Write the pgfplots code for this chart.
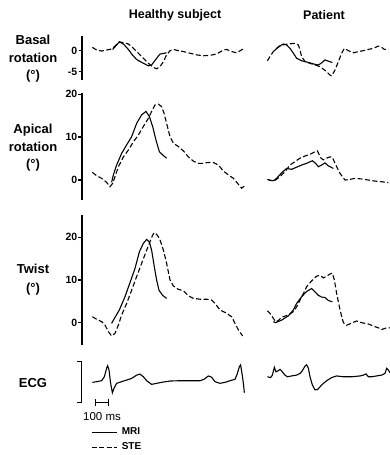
\documentclass[border=0pt]{standalone}
\usepackage{fontspec}
\setmainfont{Liberation Sans}
\usepackage{pgfplots}
\pgfplotsset{compat=1.18}

\pgfplotsset{
  basep/.style={scale only axis, clip=false, anchor=south west, xtick=\empty},
  hpanel/.style={basep, axis x line=none, axis y line*=left,
    y axis line style={line width=1.8pt},
    tick align=outside, major tick length=3.5pt,
    ytick style={line width=1.4pt, black},
    yticklabel style={font=\bfseries\fontsize{10.5}{12}\selectfont, inner sep=1pt},
    xmin=-80, xmax=1224, width=163pt},
  ppanel/.style={basep, hide axis, xmin=0, xmax=984, width=123pt},
  mri/.style={black, line width=1.1pt, solid, mark=none},
  ste/.style={black, line width=1.1pt, dash pattern=on 5pt off 2.5pt, mark=none},
}

\begin{document}
\begin{tikzpicture}
\path[use as bounding box] (0pt,0pt) rectangle (390pt,455pt);

% Titles
\node[font=\bfseries\fontsize{12.5}{14}\selectfont] at (175pt,440pt) {Healthy subject};
\node[font=\bfseries\fontsize{12.5}{14}\selectfont] at (324pt,440pt) {Patient};

% Row labels
\node[font=\bfseries\fontsize{13}{17.5}\selectfont, align=center] at (33pt,396pt) {Basal\\rotation\\(°)};
\node[font=\bfseries\fontsize{13}{17.5}\selectfont, align=center] at (33pt,307pt) {Apical\\rotation\\(°)};
\node[font=\bfseries\fontsize{13}{18.5}\selectfont, align=center] at (33pt,175.5pt) {Twist\\(°)};
\node[font=\bfseries\fontsize{13}{15}\selectfont] at (33pt,72pt) {ECG};

% ---------- Basal rotation ----------
\begin{axis}[hpanel, at={(82pt,374.9pt)}, height=44.1pt, ymin=-7, ymax=3.5,
  ytick={-5,0}, yticklabels={-5,0}]
\addplot[ste] coordinates {(3,0.8)(37,0.16)(77,-0.08)(117,0.16)(157,0.4)(184,1.1)(219,2.1)(251,1.9)(291,1.6)(331,0.6)(371,-0.6)(411,-1.8)(451,-3.0)(491,-4.0)(517,-4.3)(544,-3.8)(571,-2.6)(597,-1.0)(624,0)(651,0.3)(691,0)(731,-0.2)(784,-0.6)(837,-1.0)(891,-1.2)(944,-1.1)(997,-0.8)(1051,0.16)(1077,0.3)(1117,-0.2)(1157,-0.5)(1197,0.2)(1211,0.4)};
\addplot[mri] coordinates {(165,0.3)(219,2.1)(251,1.6)(291,0.3)(317,-0.8)(357,-2.1)(411,-3.0)(451,-3.6)(477,-3.4)(517,-1.8)(544,-0.8)(597,-0.5)};
\end{axis}
\begin{axis}[ppanel, at={(267pt,374.9pt)}, height=44.1pt, ymin=-7, ymax=3.5]
\addplot[ste] coordinates {(3,-2.4)(24,-1.4)(51,-0.2)(77,0.55)(117,1.35)(171,1.6)(224,1.75)(251,1.35)(264,0.16)(277,-1.4)(304,-2.6)(344,-3.0)(384,-3.4)(424,-3.8)(451,-4.4)(477,-5.0)(504,-5.8)(517,-6.0)(544,-4.6)(571,-2.6)(597,-0.6)(619,0.55)(651,0)(691,-0.5)(731,-0.2)(771,0)(811,0.3)(851,0.55)(891,1.1)(917,0.8)(939,0.3)(971,0.3)};
\addplot[mri] coordinates {(59,0)(91,0.95)(131,1.6)(157,1.35)(184,0.55)(211,-0.6)(237,-1.8)(277,-2.4)(331,-2.8)(384,-3.25)(411,-3.4)(437,-2.9)(464,-2.2)(491,-2.5)(523,-2.8)};
\end{axis}

% ---------- Apical rotation ----------
\begin{axis}[hpanel, at={(82pt,254.8pt)}, height=106.8pt, ymin=-4.7, ymax=20.2,
  ytick={0,10,20}, yticklabels={0,10,20}]
\addplot[ste] coordinates {(3,1.8)(37,1.0)(77,0.4)(117,-0.55)(144,-1.55)(165,-0.8)(184,0.8)(211,3.1)(251,5.4)(291,7.0)(331,8.9)(371,10.5)(411,12.5)(451,14.4)(477,16.0)(504,17.5)(531,17.7)(557,17.1)(576,15.6)(597,13.2)(624,10.1)(651,8.6)(691,7.8)(731,6.8)(771,5.4)(811,4.4)(851,3.9)(891,3.9)(931,4.1)(971,4.1)(1011,3.5)(1051,2.1)(1091,1.2)(1131,0.4)(1171,-1.0)(1197,-1.9)(1224,-1.3)};
\addplot[mri] coordinates {(157,-0.55)(171,1.2)(197,3.5)(237,6.2)(277,8.2)(317,10.1)(357,13.2)(397,15.2)(432,16.0)(459,14.8)(485,12.5)(512,9.3)(539,6.6)(571,5.7)(597,5.1)};
\end{axis}
\begin{axis}[ppanel, at={(267pt,254.8pt)}, height=106.8pt, ymin=-4.7, ymax=20.2]
\addplot[ste] coordinates {(3,0.15)(37,-0.15)(69,0)(104,0.8)(144,1.95)(184,3.5)(224,4.3)(264,5.1)(304,5.6)(344,6.0)(384,6.6)(403,6.8)(416,6.0)(432,5.1)(451,4.7)(477,5.1)(504,5.4)(523,5.3)(544,3.9)(584,1.55)(624,0)(664,0.15)(704,0.4)(757,0.25)(811,0)(864,-0.25)(917,-0.4)(971,-0.6)};
\addplot[mri] coordinates {(11,0)(51,-0.15)(77,0.4)(117,1.7)(157,2.7)(197,2.5)(237,3.0)(277,3.5)(317,3.9)(363,4.5)(389,3.9)(411,3.1)(437,3.5)(464,4.0)(491,3.3)(531,2.7)};
\end{axis}

% ---------- Twist ----------
\begin{axis}[hpanel, at={(82pt,110.1pt)}, height=129.8pt, ymin=-5.2, ymax=25.2,
  ytick={0,10,20}, yticklabels={0,10,20}]
\addplot[ste] coordinates {(3,1.4)(37,0.8)(77,0.25)(104,-0.55)(131,-2.1)(157,-3.1)(184,-2.5)(211,-0.55)(237,1.8)(277,4.5)(317,7.6)(357,10.8)(397,13.9)(432,16.6)(459,18.6)(485,20.5)(499,21.1)(523,20.5)(544,19.4)(571,17.0)(597,13.9)(624,10.0)(651,8.6)(691,7.8)(731,7.5)(771,6.3)(811,5.7)(864,5.5)(917,5.5)(957,5.3)(984,4.5)(1024,3.0)(1077,2.2)(1117,1.4)(1144,-0.15)(1171,-1.7)(1205,-3.1)};
\addplot[mri] coordinates {(157,-0.15)(184,1.25)(219,3.0)(264,6.1)(304,9.4)(344,12.7)(379,16.6)(411,18.6)(437,19.5)(459,18.9)(477,17.0)(499,13.0)(517,10.0)(536,7.6)(565,6.4)(597,5.7)};
\end{axis}
\begin{axis}[ppanel, at={(267pt,110.1pt)}, height=129.8pt, ymin=-5.2, ymax=25.2]
\addplot[ste] coordinates {(3,2.8)(24,2.2)(51,1.0)(69,0.2)(91,0.5)(117,1.25)(144,1.55)(171,1.8)(211,2.6)(237,3.7)(264,5.3)(291,6.8)(317,8.4)(357,9.8)(397,10.9)(424,11.1)(451,10.5)(477,10.9)(504,11.4)(523,11.6)(539,10.0)(557,6.9)(584,3.0)(611,0)(637,-0.6)(677,-0.1)(717,0.4)(757,0)(811,-0.3)(851,-0.8)(891,-1.2)(917,-1.6)(957,-1.2)(984,-1.2)};
\addplot[mri] coordinates {(51,0.25)(69,0)(117,0.6)(171,1.6)(211,3.0)(237,4.5)(277,6.1)(317,7.3)(357,8.0)(384,7.2)(411,6.4)(437,6.0)(464,5.9)(491,5.2)(523,4.9)};
\end{axis}

% ---------- ECG ----------
\begin{axis}[basep, hide axis, xmin=-80, xmax=1224, width=163pt, at={(82pt,52.4pt)}, height=41pt, ymin=-0.51, ymax=0.49,
  legend style={at={(0.055,-0.58)}, anchor=north west, draw=none, fill=none,
    font=\bfseries\fontsize{10}{12}\selectfont, row sep=3.5pt, inner sep=0pt,
    nodes={inner sep=1.5pt},
    /tikz/every odd column/.append style={column sep=3pt}},
  legend cell align=left,
  legend image code/.code={\draw[#1] (0pt,0pt) -- (25pt,0pt);}]
\addplot[mri, forget plot] coordinates {(3,-0.016)(37,0)(77,0.024)(99,0.12)(117,0.33)(125,0.39)(136,0.285)(149,-0.04)(163,-0.27)(176,-0.16)(197,-0.04)(237,0)(277,0.04)(317,0.08)(357,0.16)(384,0.185)(411,0.12)(437,0.024)(477,-0.065)(517,-0.04)(571,-0.008)(624,0.016)(704,0.024)(784,0.024)(864,0.024)(896,0.057)(931,0.14)(957,0.11)(984,0)(1024,-0.04)(1064,-0.016)(1104,0.024)(1144,0.057)(1163,0.2)(1179,0.366)(1189,0.41)(1200,0.2)(1211,-0.04)(1219,-0.27)};
\addlegendimage{mri}
\addlegendentry{MRI}
\addlegendimage{ste}
\addlegendentry{STE}
\draw[line width=1.3pt] (axis cs:-120,0.49) -- (axis cs:-82,0.49) -- (axis cs:-82,-0.51) -- (axis cs:-120,-0.51);
\draw[line width=1.2pt] (axis cs:30,-0.51) -- (axis cs:130,-0.51);
\draw[line width=1.2pt] (axis cs:30,-0.43) -- (axis cs:30,-0.59);
\draw[line width=1.2pt] (axis cs:130,-0.43) -- (axis cs:130,-0.59);
\node[anchor=west, font=\fontsize{11.5}{13}\selectfont, inner sep=0pt] at (axis cs:-72,-0.86) {100 ms};
\end{axis}
\begin{axis}[ppanel, at={(267pt,52.4pt)}, height=41pt, ymin=-0.51, ymax=0.49]
\addplot[mri] coordinates {(3,0.12)(29,0.1)(43,0.16)(59,0.35)(72,0.24)(91,0.27)(104,0.3)(123,0.24)(144,0.16)(163,0.12)(197,0.14)(237,0.16)(264,0.2)(283,0.27)(304,0.38)(317,0.41)(331,0.33)(344,0.12)(363,-0.08)(384,-0.2)(405,-0.19)(437,-0.08)(477,0.024)(517,0.1)(557,0.14)(611,0.12)(677,0.12)(744,0.14)(771,0.16)(792,0.19)(811,0.12)(837,0.12)(877,0.14)(917,0.16)(944,0.2)(957,0.325)(971,0.285)(984,0.22)};
\end{axis}
\end{tikzpicture}
\end{document}
